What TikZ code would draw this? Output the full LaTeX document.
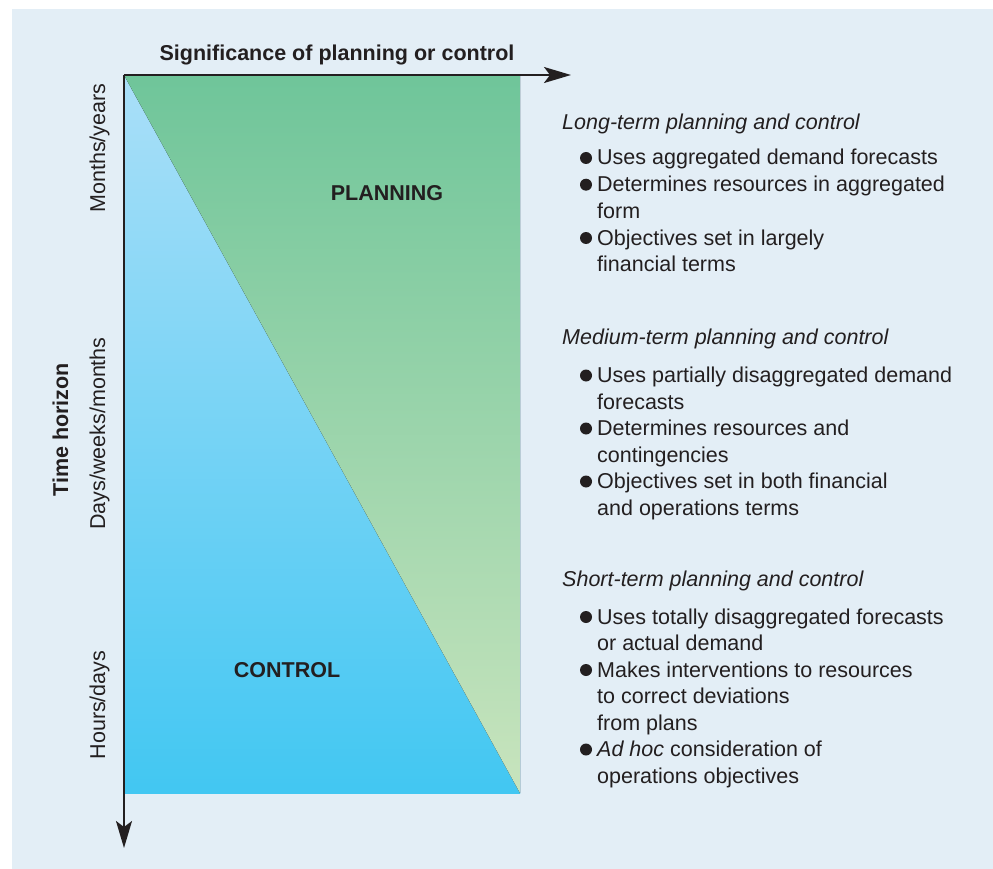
\documentclass[tikz,border=0pt]{standalone}
\usepackage{fontspec}
\setmainfont{Liberation Sans}
\usetikzlibrary{arrows.meta}
\definecolor{bg}{RGB}{227,238,246}
\definecolor{ink}{RGB}{35,31,32}
\definecolor{gtop}{RGB}{111,197,154}
\definecolor{gbot}{RGB}{200,228,189}
\definecolor{btop}{RGB}{170,223,248}
\definecolor{bbot}{RGB}{66,199,242}
\begin{document}
\begin{tikzpicture}[x=1pt,y=-1pt,
  txt/.style={anchor=base west,inner sep=0pt,text=ink,font=\fontsize{21.5}{26}\selectfont},
  head/.style={txt,font=\fontsize{21.5}{26}\selectfont\itshape},
  bold/.style={anchor=base,inner sep=0pt,text=ink,font=\fontsize{21.5}{26}\selectfont\bfseries},
  lbl/.style={anchor=base,inner sep=0pt,text=ink,rotate=90,font=\fontsize{21.5}{26}\selectfont},
  dot/.style={circle,fill=ink,inner sep=0pt,minimum size=12pt},
  axis/.style={draw=ink,line width=2pt,-{Stealth[length=27pt,width=16pt,inset=6pt]}}]
\useasboundingbox (0,0) rectangle (993,869);
\fill[white] (0,0) rectangle (993,869);
\fill[bg] (12,9) rectangle (993,869);
% regions
\coordinate (o) at (124,75);
\coordinate (tr) at (520,75);
\coordinate (br) at (520,793);
\coordinate (bl) at (124,793);
\coordinate (xtip) at (571,75);
\coordinate (ytip) at (124,848);
\fill[top color=btop,bottom color=bbot] (o) rectangle (br);
\fill[top color=gtop,bottom color=gbot] (o) -- (tr) -- (br) -- cycle;
\draw[axis] (o) -- (xtip);
\draw[axis] (o) -- (ytip);
% axis labels
\node[bold] (sig) at (337,61) {Significance of planning or control};
\node[lbl,font=\fontsize{21.5}{26}\selectfont\bfseries] (time) at (68,430) {Time horizon};
\node[lbl] (months) at (105,148) {Months/years};
\node[lbl] (days) at (105,433.5) {Days/weeks/months};
\node[lbl] (hours) at (105,705) {Hours/days};
\node[bold] (plan) at (387,200.5) {PLANNING};
\node[bold] (ctrl) at (287,677) {CONTROL};
% long-term
\node[head] (lh) at (562,129.5) {Long-term planning and control};
\node[dot] (ld1) at (586,158) {};
\node[txt] (l1) at (597,165) {Uses aggregated demand forecasts};
\node[dot] (ld2) at (586,184.7) {};
\node[txt] (l2) at (597,191.7) {Determines resources in aggregated};
\node[txt] (l3) at (597,218.3) {form};
\node[dot] (ld3) at (586,238) {};
\node[txt] (l4) at (597,245) {Objectives set in largely};
\node[txt] (l5) at (597,271.7) {financial terms};
% medium-term
\node[head] (mh) at (562,344) {Medium-term planning and control};
\node[dot] (md1) at (586,375.5) {};
\node[txt] (m1) at (597,382.5) {Uses partially disaggregated demand};
\node[txt] (m2) at (597,409) {forecasts};
\node[dot] (md2) at (586,428.5) {};
\node[txt] (m3) at (597,435.5) {Determines resources and};
\node[txt] (m4) at (597,462) {contingencies};
\node[dot] (md3) at (586,481.5) {};
\node[txt] (m5) at (597,488.5) {Objectives set in both financial};
\node[txt] (m6) at (597,515) {and operations terms};
% short-term
\node[head] (sh) at (562,586) {Short-term planning and control};
\node[dot] (sd1) at (586,617) {};
\node[txt] (s1) at (597,624) {Uses totally disaggregated forecasts};
\node[txt] (s2) at (597,650.5) {or actual demand};
\node[dot] (sd2) at (586,670) {};
\node[txt] (s3) at (597,677) {Makes interventions to resources};
\node[txt] (s4) at (597,703.5) {to correct deviations};
\node[txt] (s5) at (597,730) {from plans};
\node[dot] (sd3) at (586,749.5) {};
\node[txt] (s6) at (597,756.5) {\textit{Ad hoc} consideration of};
\node[txt] (s7) at (597,783) {operations objectives};
\end{tikzpicture}
\end{document}
